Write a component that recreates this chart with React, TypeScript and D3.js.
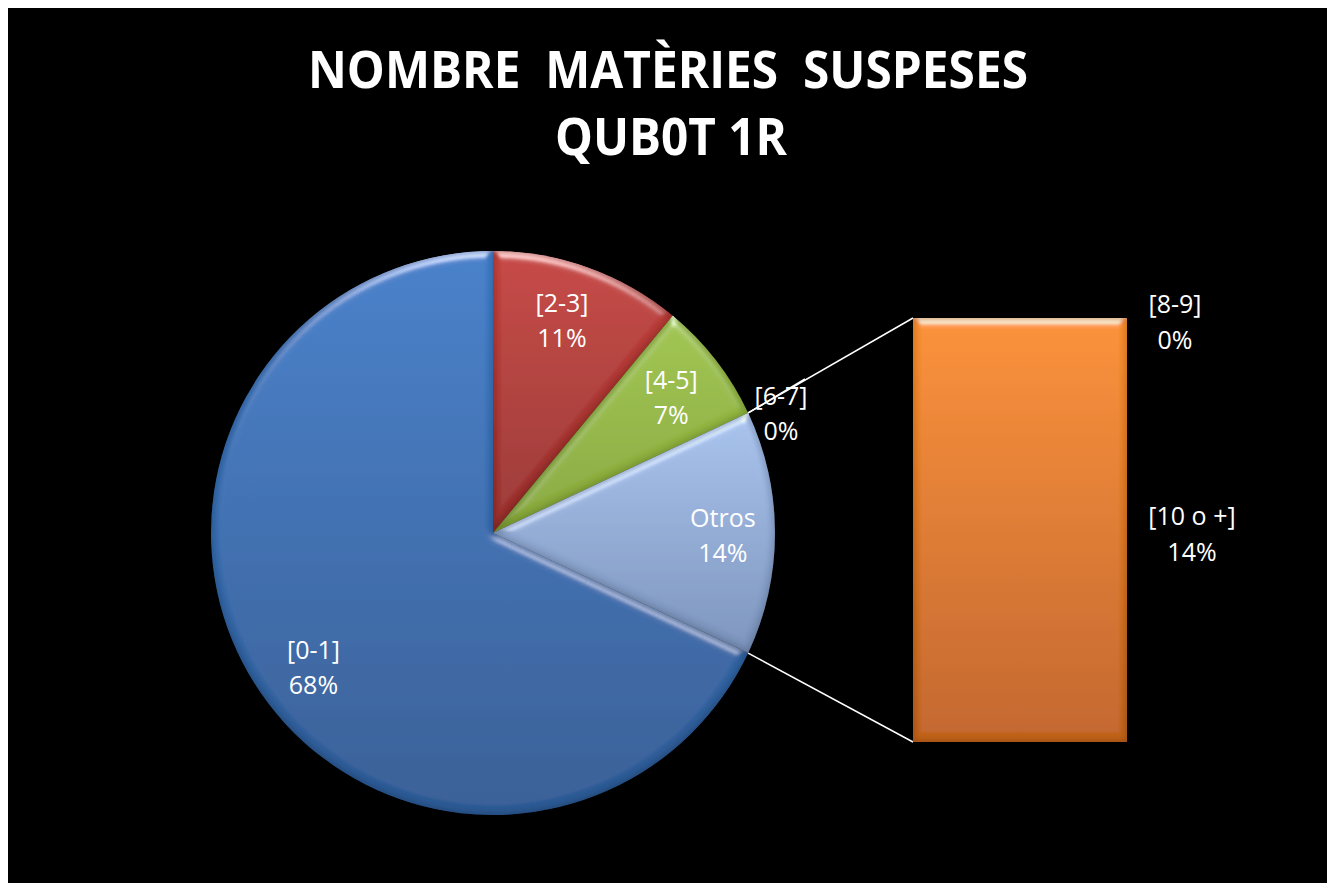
import React from 'react';
import * as d3 from 'd3';

// pie part (the last slice "Otros" is the sum of the bar part)
const pieCategories = ['[0-1]', '[2-3]', '[4-5]', '[6-7]'];
const pieValues = [68, 11, 7, 0];
const barCategories = ['[10 o +]', '[8-9]'];
const barValues = [14, 0];
const otherLabel = 'Otros';

const pieColors = [
    ['#407dc8', '#2e5a94'],
    ['#c4413d', '#98302d'],
    ['#9ec34a', '#86a73a'],
    ['#9ec34a', '#86a73a'],
    ['#a6c1ec', '#7a92ba'],
];

const FONT = "'Open Sans', 'DejaVu Sans', sans-serif";

const App = () => {
    const W = 1333, H = 883;
    const cx = 493, cy = 533, radius = 282;

    const otherTotal = d3.sum(barValues);
    const pieData = pieCategories.map((c, i) => ({ label: c, value: pieValues[i] }));
    pieData.push({ label: otherLabel, value: otherTotal });
    const total = d3.sum(pieData, d => d.value);

    // rotate so the "Otros" slice sits centred at 3 o'clock, like Excel does
    const beforeOther = d3.sum(pieValues) / total;
    const start = Math.PI / 2 - 2 * Math.PI * (beforeOther + otherTotal / total / 2);

    const pie = d3.pie<any>()
        .value(d => d.value)
        .sort(null)
        .startAngle(start)
        .endAngle(start + 2 * Math.PI);
    const arc = d3.arc<any>().innerRadius(0).outerRadius(radius);
    const slices = pie(pieData);

    const pct = (v: number) => Math.round(v / total * 100) + '%';

    // label placement tweaks, radius fraction + angle nudge (deg)
    const labelR = [0.79, 0.8, 0.8, 0.8, 0.815];
    const labelNudge = [-3.9, -2, 0, 0, 0];

    // bar of pie
    const bx0 = 913, bx1 = 1127, byTop = 318, byBot = 742;
    const y = d3.scaleLinear().domain([0, otherTotal]).range([byBot, byTop]);
    let acc = 0;
    const barSegs = barCategories.map((c, i) => {
        const s = { label: c, value: barValues[i], y0: y(acc), y1: y(acc + barValues[i]) };
        acc += barValues[i];
        return s;
    });

    const otherSlice = slices[slices.length - 1];
    const pt = (a: number) => [cx + radius * Math.sin(a), cy - radius * Math.cos(a)];
    const pA = pt(otherSlice.startAngle);
    const pB = pt(otherSlice.endAngle);

    const zeroSlice = slices[3];
    const zp = pt(zeroSlice.startAngle);

    return (
        <svg width={W} height={H} style={{ position: 'absolute', left: 0, top: 0 }}>
            <defs>
                {pieColors.map((c, i) =>
                    <linearGradient key={i} id={'g' + i} x1="0" y1="0" x2="0" y2="1">
                        <stop offset="0" stopColor={c[0]} />
                        <stop offset="1" stopColor={c[1]} />
                    </linearGradient>
                )}
                <linearGradient id="gbar" x1="0" y1="0" x2="0" y2="1">
                    <stop offset="0" stopColor="#f98e2e" />
                    <stop offset="1" stopColor="#c0621f" />
                </linearGradient>
                <filter id="bevel" x="-5%" y="-5%" width="110%" height="110%">
                    <feGaussianBlur in="SourceAlpha" stdDeviation="4" result="blur" />
                    <feSpecularLighting in="blur" surfaceScale="5" specularConstant="1" specularExponent="20"
                                        lightingColor="#ffffff" result="spec">
                        <feDistantLight azimuth="270" elevation="25" />
                    </feSpecularLighting>
                    <feComposite in="spec" in2="SourceAlpha" operator="in" result="specOut" />
                    <feComposite in="SourceGraphic" in2="specOut" operator="arithmetic" k1="0" k2="1" k3="0.55" k4="0" result="lit" />
                    <feMorphology in="SourceAlpha" operator="erode" radius="2" result="inner" />
                    <feGaussianBlur in="inner" stdDeviation="3" result="innerBlur" />
                    <feComposite in="SourceAlpha" in2="innerBlur" operator="out" result="rim" />
                    <feFlood floodColor="#000" floodOpacity="0.35" />
                    <feComposite in2="rim" operator="in" result="rimShade" />
                    <feMerge>
                        <feMergeNode in="lit" />
                        <feMergeNode in="rimShade" />
                    </feMerge>
                </filter>
            </defs>
            <rect x={0} y={0} width={W} height={H} fill="#ffffff" />
            <rect x={8} y={8} width={1319} height={H - 8} fill="#000000" />

            <text x={668} y={88} textAnchor="middle" fill="#fff" fontFamily={FONT} fontWeight={700}
                  fontSize={52} textLength={720} lengthAdjust="spacingAndGlyphs" style={{ whiteSpace: 'pre' }}>
                NOMBRE  MATÈRIES  SUSPESES
            </text>
            <text x={671} y={155} textAnchor="middle" fill="#fff" fontFamily={FONT} fontWeight={700}
                  fontSize={52} textLength={232} lengthAdjust="spacingAndGlyphs">
                QUB0T 1R
            </text>

            <g transform={`translate(${cx},${cy})`}>
                {slices.map((s, i) =>
                    s.value > 0 ? <path key={i} d={arc(s) as string} fill={`url(#g${i})`} filter="url(#bevel)" /> : null
                )}
            </g>

            {/* connector lines */}
            <line x1={pA[0]} y1={pA[1]} x2={bx0} y2={byTop} stroke="#fff" strokeWidth={1.5} />
            <line x1={pB[0]} y1={pB[1]} x2={bx0} y2={byBot} stroke="#fff" strokeWidth={1.5} />

            {barSegs.map((s, i) =>
                s.y0 - s.y1 > 0 ?
                    <rect key={i} x={bx0} y={s.y1} width={bx1 - bx0} height={s.y0 - s.y1}
                          fill="url(#gbar)" filter="url(#bevel)" /> : null
            )}

            {/* leader line for the zero slice */}
            <line x1={zp[0]} y1={zp[1]} x2={805} y2={379} stroke="#fff" strokeWidth={1.5} />

            {slices.map((s, i) => {
                let lx, ly;
                if (s.value === 0) {
                    lx = 781; ly = 405;
                } else {
                    const a = (s.startAngle + s.endAngle) / 2 + labelNudge[i] * Math.PI / 180;
                    lx = cx + labelR[i] * radius * Math.sin(a);
                    ly = cy - labelR[i] * radius * Math.cos(a) - 6;
                }
                return (
                    <text key={i} textAnchor="middle" fill="#fff" fontFamily={FONT} fontSize={25}>
                        <tspan x={lx} y={ly}>{s.data.label}</tspan>
                        <tspan x={lx} y={ly + 35}>{pct(s.value)}</tspan>
                    </text>
                );
            })}

            {barSegs.map((s, i) => {
                const ly = s.value === 0 ? 313 : (s.y0 + s.y1) / 2 - 5;
                const lx = s.value === 0 ? 1175 : 1192;
                return (
                    <text key={i} textAnchor="middle" fill="#fff" fontFamily={FONT} fontSize={25}>
                        <tspan x={lx} y={ly}>{s.label}</tspan>
                        <tspan x={lx} y={ly + 36}>{pct(s.value)}</tspan>
                    </text>
                );
            })}
        </svg>
    );
};

export default App;
